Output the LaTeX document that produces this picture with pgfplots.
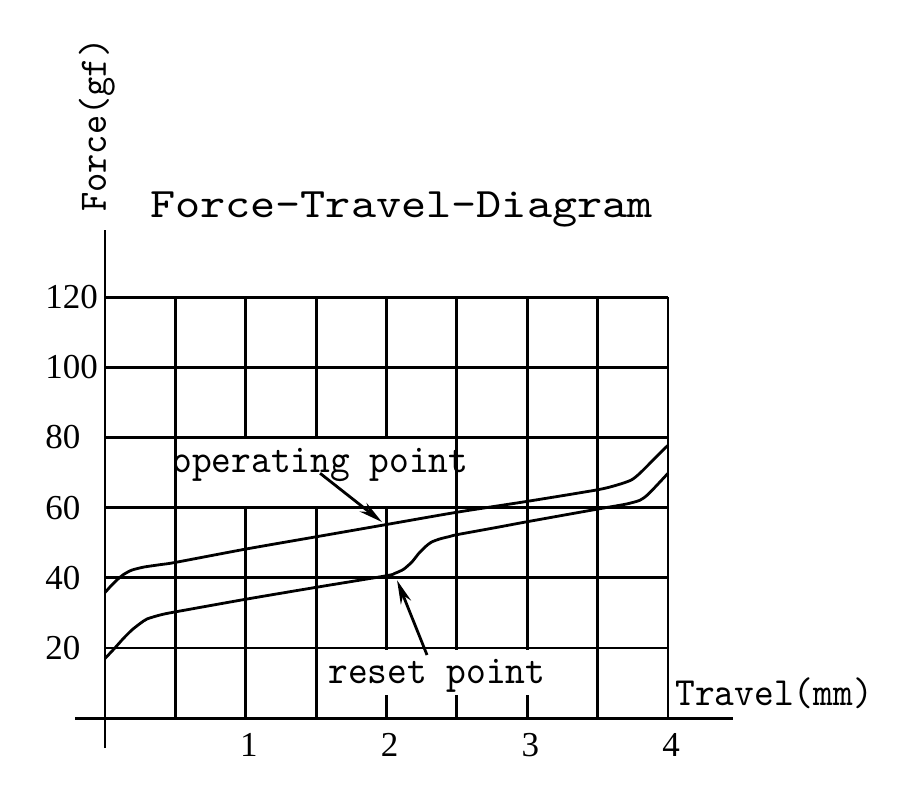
\documentclass[border=0pt]{standalone}
\usepackage{pgfplots}
\pgfplotsset{compat=1.18}
\usepackage{fontspec}
\newfontfamily\lbl{lmmono10-regular.otf}[FakeStretch=0.94]
\newfontfamily\ttl{lmmono10-regular.otf}[FakeStretch=1.14]
\newfontfamily\numfont{Liberation Serif}
\usetikzlibrary{arrows.meta}
\begin{document}
\begin{tikzpicture}
\begin{axis}[
  scale only axis, width=281.5pt, height=210.5pt,
  xmin=0, xmax=4, ymin=0, ymax=120,
  axis line style={draw=none},
  tick style={draw=none},
  xtick={1,2,3,4}, minor xtick={0,0.5,1.5,2.5,3.5},
  ytick={20,40,60,80,100,120},
  grid=both,
  major grid style={black, line width=1.4pt},
  minor grid style={black, line width=1.4pt},
  /pgf/number format/assume math mode=true,
  xticklabel style={font=\numfont\fontsize{17.5}{20}\selectfont, anchor=north, inner sep=0pt, yshift=-7.5pt, xshift=1.5pt},
  yticklabel style={font=\numfont\fontsize{17.5}{20}\selectfont, anchor=west, inner sep=0pt, xshift=-30pt},
  clip=false,
]
% axis lines
\draw[line width=1.4pt] (axis cs:-0.213,0) -- (axis cs:4.462,0);
\draw[line width=1.4pt] (axis cs:0,-8.55) -- (axis cs:0,139.1);
% gaps in the grid behind the labels
\fill[white] (axis cs:0.52,60.5) rectangle (axis cs:2.48,79.5);
\fill[white] (axis cs:1.52,6.6) rectangle (axis cs:3.48,19.5);
% operating curve
\addplot[line width=1.4pt, smooth, tension=0.4] coordinates {
(0,35.8) (0.04,37.6) (0.085,39.4) (0.13,40.9) (0.19,42.2) (0.28,43.1) (0.4,43.8) (0.5,44.4)
(1.0,48.2) (1.5,51.7) (2.0,55.2) (2.5,58.7) (3.0,61.8) (3.5,65.1) (3.65,66.6) (3.74,67.9)
(3.8,69.8) (3.9,73.8) (4.0,77.8)};
% reset curve
\addplot[line width=1.4pt, smooth, tension=0.4] coordinates {
(0,17) (0.07,20) (0.13,22.7) (0.19,25.1) (0.25,27) (0.3,28.3) (0.4,29.5) (0.5,30.3)
(1.0,33.9) (1.5,37.3) (2.0,40.6) (2.06,41.3) (2.12,42.4) (2.18,44.5) (2.23,47) (2.28,49)
(2.32,50.2) (2.38,51.1) (2.45,51.8) (2.5,52.3) (2.8,54.5) (3.0,56) (3.5,59.6) (3.7,61)
(3.8,62.1) (3.85,63.5) (3.9,65.5) (4.0,69.8)};
% annotations
\draw[line width=1.4pt, -{Stealth[length=12pt,width=5.5pt]}] (axis cs:1.528,69.8) -- (axis cs:1.968,55.9);
\draw[line width=1.4pt, -{Stealth[length=12pt,width=5.5pt]}] (axis cs:2.288,18.0) -- (axis cs:2.075,39.3);
\node[anchor=base west, inner sep=0pt, font=\lbl\fontsize{20}{22}\selectfont] at (axis cs:0.476,70.1) {operating point};
\node[anchor=base west, inner sep=0pt, font=\lbl\fontsize{20}{22}\selectfont] at (axis cs:1.584,10.0) {reset point};
\node[anchor=base west, inner sep=0pt, font=\lbl\fontsize{20}{22}\selectfont] at (axis cs:4.05,3.7) {Travel(mm)};
\node[anchor=base west, inner sep=0pt, rotate=90, font=\lbl\fontsize{19.5}{22}\selectfont] at (axis cs:0.007,144.2) {Force(gf)};
\node[anchor=base west, inner sep=0pt, font=\ttl\fontsize{21}{24}\selectfont] at (axis cs:0.317,142.8) {Force-Travel-Diagram};
\coordinate (BL) at (axis cs:-0.746,-23.4);
\coordinate (TR) at (axis cs:5.698,204.7);
\end{axis}
\pgfresetboundingbox
\path[use as bounding box] (BL) rectangle (TR);
\end{tikzpicture}
\end{document}
